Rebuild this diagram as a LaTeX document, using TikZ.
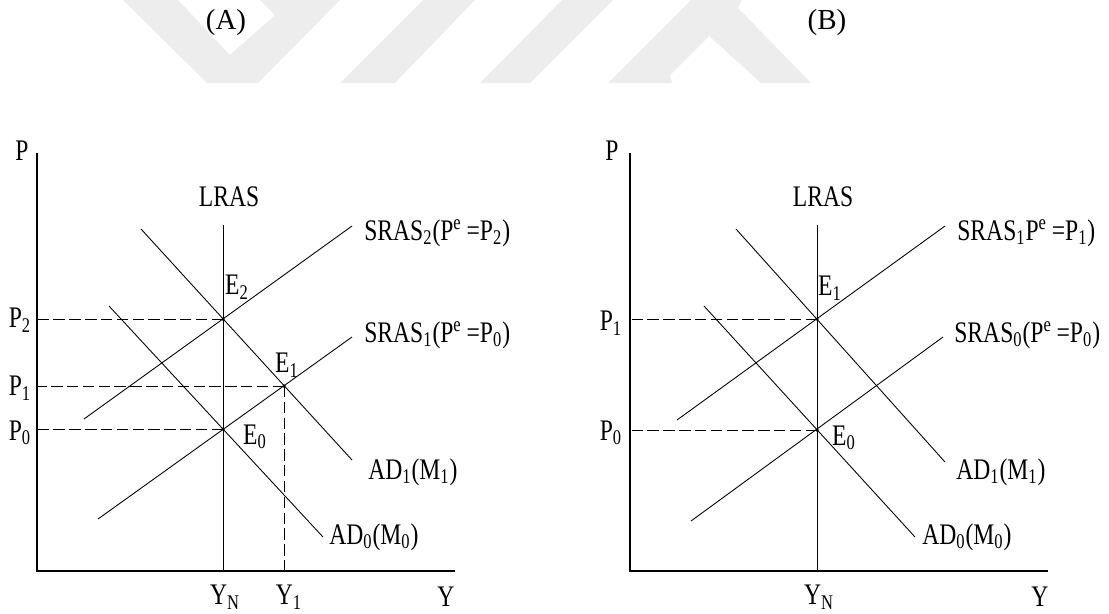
\documentclass[tikz,border=0pt]{standalone}
\usepackage{fontspec}
\setmainfont{Liberation Serif}[FakeStretch=0.79]
\newfontfamily\titlefont{Liberation Serif}
\usetikzlibrary{positioning}

\begin{document}
\begin{tikzpicture}[x=0.02cm, y=-0.02cm,
  every node/.style={font=\fontsize{17}{20}\selectfont},
  title/.style={font=\titlefont\fontsize{16.5}{19}\selectfont},
  axisline/.style={line width=0.6pt},
  curve/.style={line width=0.5pt},
  guide/.style={line width=0.5pt, dash pattern=on 6.5pt off 2.5pt},
  lbl/.style={anchor=west, inner sep=0pt},
  eqdot/.style={circle, fill, inner sep=0pt, minimum size=2pt},
  wm/.style={fill=black!7, draw=none}]

\useasboundingbox (0,0) rectangle (1109,613);

% --- Watermark (background) ---
\fill[wm] (123,0) -- (178,0) -- (230,55) -- (275,15) -- (260,0) -- (340,0) -- (258,83) -- (207,83) -- cycle;
\fill[wm] (423,0) -- (475,0) -- (395,83) -- (340,83) -- cycle;
\fill[wm] (562,0) -- (613,0) -- (530,83) -- (480,83) -- cycle;
\fill[wm] (608,83) -- (691,0) -- (742,0) -- (738,8) -- (811,83) -- (761,83) -- (709,36) -- (670,75) -- (672,83) -- cycle;

% --- Panel titles ---
\node[title] (titleA) at (226,23) {(A)};
\node[title] (titleB) at (827,23) {(B)};

% --- Panel A: axes ---
\coordinate (oA) at (37,571);
\coordinate (ptopA) at (37,153);
\coordinate (yendA) at (455,571);
\draw[axisline] (ptopA) -- (oA) -- (yendA);
\node (pA) at (22,151) {P};
\node (yA) at (446,597) {Y};

% LRAS
\coordinate (lrasA) at (223,225);
\draw[curve] (lrasA) -- (lrasA |- oA);
\node (lrasAlbl) at (229,197) {LRAS};

% SRAS and AD curves
\coordinate (sras2A1) at (84,419);  \coordinate (sras2A2) at (352,226);
\coordinate (sras1A1) at (98,519);  \coordinate (sras1A2) at (352,337);
\coordinate (ad1A1) at (141,229);   \coordinate (ad1A2) at (352,460);
\coordinate (ad0A1) at (109,306);   \coordinate (ad0A2) at (323,537);
\draw[curve] (sras2A1) -- (sras2A2);
\draw[curve] (sras1A1) -- (sras1A2);
\draw[curve] (ad1A1) -- (ad1A2);
\draw[curve] (ad0A1) -- (ad0A2);
\node[lbl] (sras2Albl) at (364,233) {SRAS\textsubscript{2}(P\textsuperscript{e}\,=P\textsubscript{2})};
\node[lbl] (sras1Albl) at (364,335) {SRAS\textsubscript{1}(P\textsuperscript{e}\,=P\textsubscript{0})};
\node[lbl] (ad1Albl) at (368,472) {AD\textsubscript{1}(M\textsubscript{1})};
\node[lbl] (ad0Albl) at (329,537) {AD\textsubscript{0}(M\textsubscript{0})};

% Equilibria and guide lines
\node[eqdot] (E2A) at (223,319) {};
\node[eqdot] (E1A) at (284,386) {};
\node[eqdot] (E0A) at (223,429) {};
\draw[guide] (E2A.center) -- (E2A.center -| oA);
\draw[guide] (E1A.center) -- (E1A.center -| oA);
\draw[guide] (E0A.center) -- (E0A.center -| oA);
\draw[guide] (E1A.center) -- (E1A.center |- oA);
\node (e2Albl) at (237,287) {E\textsubscript{2}};
\node (e1Albl) at (287,365) {E\textsubscript{1}};
\node (e0Albl) at (255,437) {E\textsubscript{0}};
\node (p2A) at (20,320) {P\textsubscript{2}};
\node (p1A) at (20,388) {P\textsubscript{1}};
\node (p0A) at (20,433) {P\textsubscript{0}};
\node (ynA) at (225,597) {Y\textsubscript{N}};
\node (y1A) at (289,597) {Y\textsubscript{1}};

% --- Panel B: axes ---
\coordinate (oB) at (630,571);
\coordinate (ptopB) at (630,153);
\coordinate (yendB) at (1048,571);
\draw[axisline] (ptopB) -- (oB) -- (yendB);
\node (pB) at (612,151) {P};
\node (yB) at (1040,597) {Y};

% LRAS
\coordinate (lrasB) at (817,225);
\draw[curve] (lrasB) -- (lrasB |- oB);
\node (lrasBlbl) at (823,197) {LRAS};

% SRAS and AD curves
\coordinate (sras1B1) at (677,420); \coordinate (sras1B2) at (945,226);
\coordinate (sras0B1) at (691,521); \coordinate (sras0B2) at (943,337);
\coordinate (ad1B1) at (736,229);   \coordinate (ad1B2) at (945,462);
\coordinate (ad0B1) at (704,306);   \coordinate (ad0B2) at (915,537);
\draw[curve] (sras1B1) -- (sras1B2);
\draw[curve] (sras0B1) -- (sras0B2);
\draw[curve] (ad1B1) -- (ad1B2);
\draw[curve] (ad0B1) -- (ad0B2);
\node[lbl] (sras1Blbl) at (957,233) {SRAS\textsubscript{1}P\textsuperscript{e}\,=P\textsubscript{1})};
\node[lbl] (sras0Blbl) at (954,335) {SRAS\textsubscript{0}(P\textsuperscript{e}\,=P\textsubscript{0})};
\node[lbl] (ad1Blbl) at (956,472) {AD\textsubscript{1}(M\textsubscript{1})};
\node[lbl] (ad0Blbl) at (922,537) {AD\textsubscript{0}(M\textsubscript{0})};

% Equilibria and guide lines
\node[eqdot] (E1B) at (817,319) {};
\node[eqdot] (E0B) at (817,430) {};
\draw[guide] (E1B.center) -- (E1B.center -| oB);
\draw[guide] (E0B.center) -- (E0B.center -| oB);
\node (e1Blbl) at (830,288) {E\textsubscript{1}};
\node (e0Blbl) at (844,438) {E\textsubscript{0}};
\node (p1B) at (611,323) {P\textsubscript{1}};
\node (p0B) at (611,433) {P\textsubscript{0}};
\node (ynB) at (819,597) {Y\textsubscript{N}};

\end{tikzpicture}
\end{document}
